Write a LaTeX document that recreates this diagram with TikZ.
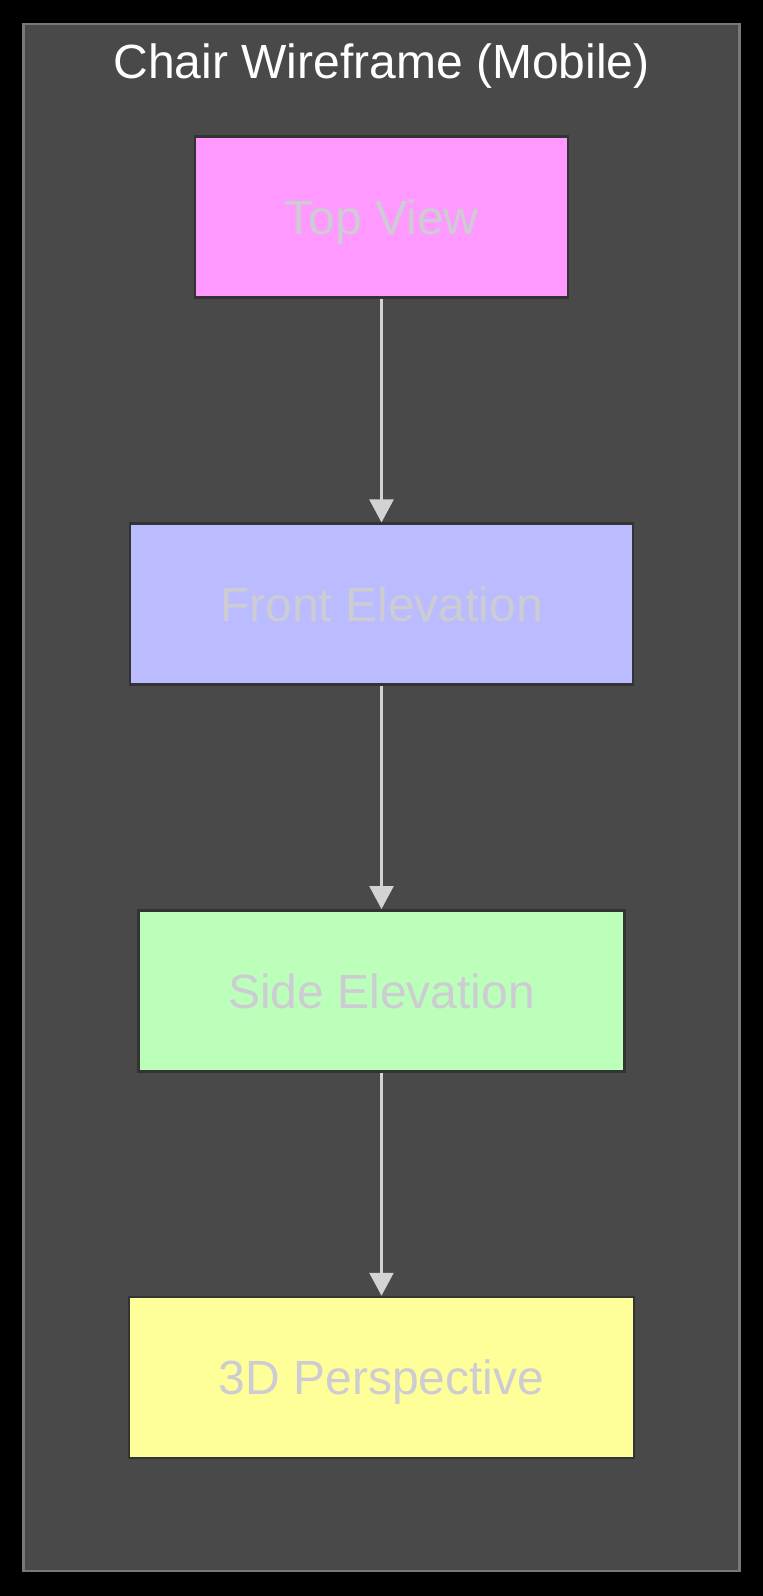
\documentclass[tikz,border=0pt]{standalone}
\usepackage{fontspec}
\setmainfont{Liberation Sans}
\usetikzlibrary{arrows.meta}
\definecolor{clusterfill}{RGB}{72,73,72}
\definecolor{clusterline}{RGB}{120,120,120}
\definecolor{nodeline}{RGB}{51,51,51}
\definecolor{nodetext}{RGB}{204,204,210}
\definecolor{arrowcol}{RGB}{211,211,211}
\definecolor{pinkfill}{HTML}{FF99FF}
\definecolor{bluefill}{HTML}{BBBBFF}
\definecolor{greenfill}{HTML}{BBFFBB}
\definecolor{yellowfill}{HTML}{FFFF99}
\begin{document}
\begin{tikzpicture}[x=1pt,y=-1pt,
  stepbox/.style={draw=nodeline, line width=2.5pt, rectangle, minimum height=161pt,
    text=nodetext, font=\fontsize{48}{58}\selectfont, text height=34.4pt, text depth=0pt, inner sep=0pt},
  arr/.style={draw=arrowcol, line width=2.5pt, -{Triangle[length=23pt,width=24pt]}},
  ]
  \fill[black] (0,0) rectangle (763,1596);
  \useasboundingbox (0,0) rectangle (763,1596);
  \draw[fill=clusterfill, draw=clusterline, line width=2.5pt] (23.5,24) rectangle (739.5,1571);
  \node[anchor=base, text=white, font=\fontsize{48}{58}\selectfont] (title) at (381.5,78) {Chair Wireframe (Mobile)};
  \node[stepbox, fill=pinkfill, minimum width=373pt] (top) at (381.5,217.2) {Top View};
  \node[stepbox, fill=bluefill, minimum width=503pt] (front) at (381.5,604.2) {Front Elevation};
  \node[stepbox, fill=greenfill, minimum width=486pt] (side) at (381.5,990.8) {Side Elevation};
  \node[stepbox, fill=yellowfill, minimum width=505pt] (persp) at (381.5,1377.5) {3D Perspective};
  \draw[arr] (top) -- (front);
  \draw[arr] (front) -- (side);
  \draw[arr] (side) -- (persp);
\end{tikzpicture}
\end{document}
